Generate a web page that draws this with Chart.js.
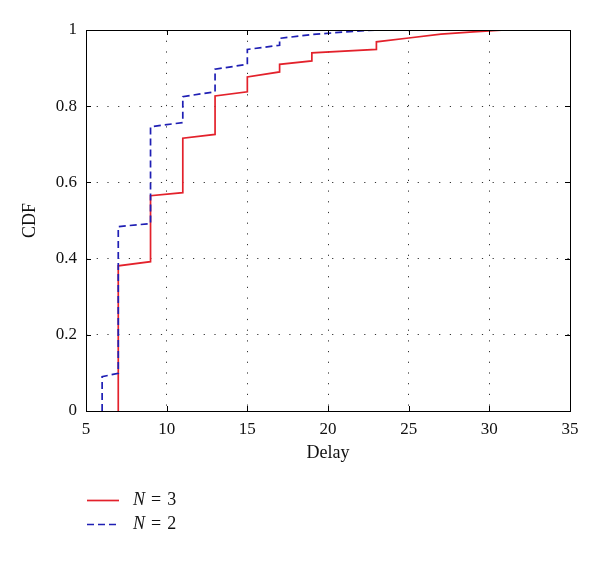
<!DOCTYPE html>
<html>
<head>
<meta charset="utf-8">
<script src="https://cdn.jsdelivr.net/npm/chart.js@4/dist/chart.umd.min.js"></script>
<style>
  html, body { margin: 0; padding: 0; background: #fff; }
  #wrap { width: 600px; height: 567px; }
</style>
</head>
<body>
<div id="wrap"><canvas id="cdfChart" width="600" height="567"></canvas></div>
<script>
// values (delay, cdf)
const delayN3 = [7, 7, 9, 9, 11, 11, 13, 13, 15, 15, 17, 17, 19, 19, 23, 23, 25, 27, 29, 31];
const cdfN3 = [0, 0.381, 0.392, 0.565, 0.573, 0.716, 0.726, 0.827, 0.838, 0.877, 0.89, 0.91, 0.919, 0.94, 0.949, 0.969, 0.979, 0.989, 0.995, 1.0];
const delayN2 = [6, 6, 7, 7, 9, 9, 11, 11, 13, 13, 15, 15, 17, 17, 19, 21, 23];
const cdfN2 = [0, 0.09, 0.099, 0.484, 0.492, 0.746, 0.757, 0.825, 0.838, 0.897, 0.91, 0.949, 0.96, 0.978, 0.988, 0.995, 1.0];
const seriesLabels = ["N = 3", "N = 2"];
const xTicks = [5, 10, 15, 20, 25, 30, 35];
const yTicks = [0, 0.2, 0.4, 0.6, 0.8, 1];

const FONT = "'Liberation Serif', 'DejaVu Serif', serif";

function toPoints(xs, ys) {
  return xs.map((x, i) => ({ x: x, y: ys[i] }));
}

// box, inward ticks, axis titles and the legend underneath
const matlabFrame = {
  id: "matlabFrame",
  afterDraw(chart) {
    const ctx = chart.ctx;
    const a = chart.chartArea;
    const xs = chart.scales.x;
    const ys = chart.scales.y;
    ctx.save();
    ctx.strokeStyle = "#000";
    ctx.lineWidth = 1;
    ctx.setLineDash([]);
    ctx.strokeRect(Math.round(a.left) + 0.5, Math.round(a.top) + 0.5,
      Math.round(a.right - a.left), Math.round(a.bottom - a.top));

    const tl = 5;
    ctx.beginPath();
    xTicks.forEach(v => {
      const px = Math.round(xs.getPixelForValue(v)) + 0.5;
      ctx.moveTo(px, a.bottom); ctx.lineTo(px, a.bottom - tl);
      ctx.moveTo(px, a.top); ctx.lineTo(px, a.top + tl);
    });
    yTicks.forEach(v => {
      const py = Math.round(ys.getPixelForValue(v)) + 0.5;
      ctx.moveTo(a.left, py); ctx.lineTo(a.left + tl, py);
      ctx.moveTo(a.right, py); ctx.lineTo(a.right - tl, py);
    });
    ctx.stroke();

    // axis titles
    ctx.fillStyle = "#111";
    ctx.font = "18px " + FONT;
    ctx.textAlign = "center";
    ctx.textBaseline = "middle";
    ctx.fillText("Delay", (a.left + a.right) / 2, 453);
    ctx.save();
    ctx.translate(30, (a.top + a.bottom) / 2);
    ctx.rotate(-Math.PI / 2);
    ctx.fillText("CDF", 0, 0);
    ctx.restore();

    // legend (italic N, wider spacing round "=")
    chart.data.datasets.forEach((ds, i) => {
      const y = 500 + i * 24 + 0.5;
      ctx.strokeStyle = ds.borderColor;
      ctx.lineWidth = ds.borderWidth;
      ctx.setLineDash(ds.borderDash || []);
      ctx.beginPath();
      ctx.moveTo(87, y);
      ctx.lineTo(119, y);
      ctx.stroke();
      const parts = ds.label.split(" ");
      ctx.textAlign = "left";
      ctx.fillStyle = "#111";
      let x = 133;
      parts.forEach((p, j) => {
        ctx.font = (j === 0 ? "italic " : "") + "18px " + FONT;
        ctx.fillText(p, x, y);
        x += ctx.measureText(p).width + 6;
      });
    });
    ctx.restore();
  }
};

new Chart(document.getElementById("cdfChart"), {
  type: "scatter",
  data: {
    datasets: [
      {
        label: seriesLabels[0],
        data: toPoints(delayN3, cdfN3),
        showLine: true,
        borderColor: "#e3212b",
        borderWidth: 1.7,
        pointRadius: 0,
        tension: 0,
        order: 2
      },
      {
        label: seriesLabels[1],
        data: toPoints(delayN2, cdfN2),
        showLine: true,
        borderColor: "#1f1fb4",
        borderWidth: 1.7,
        borderDash: [7, 4],
        pointRadius: 0,
        tension: 0,
        order: 1
      }
    ]
  },
  options: {
    responsive: false,
    animation: false,
    devicePixelRatio: 1,
    layout: { padding: { top: 30, right: 30, left: 0, bottom: 0 } },
    plugins: { legend: { display: false }, tooltip: { enabled: false } },
    scales: {
      x: {
        type: "linear",
        min: 5,
        max: 35,
        afterBuildTicks: s => { s.ticks = xTicks.map(v => ({ value: v })); },
        afterFit: s => { s.height = 156; },
        ticks: { color: "#111", padding: 8, font: { family: FONT, size: 17 } },
        grid: { color: "#333", lineWidth: 1, drawTicks: false },
        border: { display: false, dash: [1.2, 9.5] }
      },
      y: {
        type: "linear",
        min: 0,
        max: 1,
        afterBuildTicks: s => { s.ticks = yTicks.map(v => ({ value: v })); },
        afterFit: s => { s.width = 86; },
        ticks: {
          color: "#111", padding: 9, font: { family: FONT, size: 17 },
          callback: v => String(v)
        },
        grid: { color: "#333", lineWidth: 1, drawTicks: false },
        border: { display: false, dash: [1.2, 9.5] }
      }
    }
  },
  plugins: [matlabFrame]
});
</script>
</body>
</html>
